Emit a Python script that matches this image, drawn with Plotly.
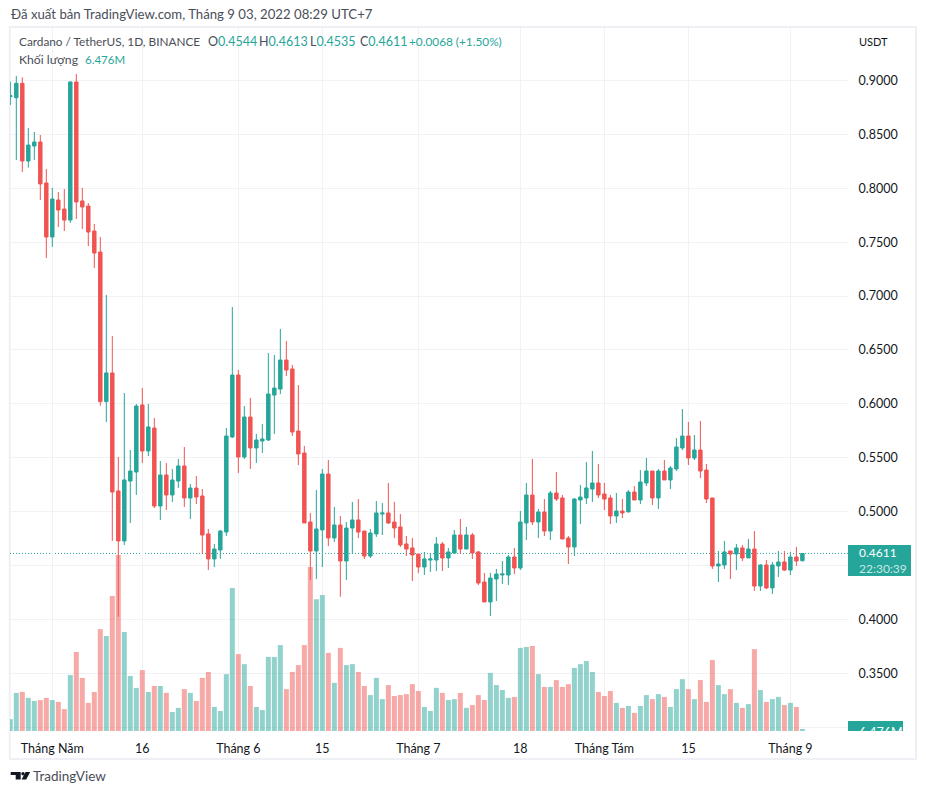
"""ADA/USDT daily candles with volume, TradingView look."""

import pandas as pd
import plotly.graph_objects as go

WIDTH, HEIGHT = 926, 794
PLOT_L, PLOT_R, PLOT_T, PLOT_B = 10, 848, 28, 731

UP = "#26a69a"
DOWN = "#f05452"
UP_VOL = "rgba(38,166,154,0.5)"
DOWN_VOL = "rgba(239,83,80,0.5)"
GRID = "#f0f2f5"
TEXT = "#131722"
SOFT = "#4a4e58"
FONT = "Lato"

dates = pd.date_range("2022-04-24", periods=133, freq="D")

opens = [
    0.8850, 0.8840, 0.8974, 0.8253, 0.8392, 0.8429, 0.8049,
    0.7548, 0.7891, 0.7807, 0.7705, 0.8986, 0.7882, 0.7835, 0.7603, 0.7408, 0.6020,
    0.6286, 0.5191, 0.4727, 0.5283, 0.5367, 0.5989, 0.5562, 0.5775, 0.5051, 0.5339,
    0.5154, 0.5283, 0.5423, 0.5126, 0.5218, 0.5144, 0.4792, 0.4560, 0.4643, 0.4810,
    0.5692,
    0.6267, 0.5506, 0.5877, 0.5590, 0.5655, 0.5664, 0.6081, 0.6137, 0.6406, 0.6323,
    0.5747, 0.5543, 0.4903, 0.4634, 0.4829, 0.5348, 0.4755, 0.4875, 0.4541, 0.4847,
    0.4922, 0.4819, 0.4587, 0.4792, 0.4977, 0.4987, 0.4903, 0.4857, 0.4699, 0.4662,
    0.4606, 0.4485, 0.4550, 0.4550, 0.4699, 0.4569, 0.4615, 0.4782, 0.4652, 0.4782,
    0.4625, 0.4346, 0.4161, 0.4374, 0.4411, 0.4411, 0.4578, 0.4476, 0.4894, 0.5153,
    0.4903, 0.4996, 0.4819, 0.5172, 0.5126, 0.4754, 0.4671, 0.5107, 0.5126, 0.5209,
    0.5265,
    0.5163, 0.5126, 0.4959, 0.5005, 0.4996, 0.5181, 0.5107, 0.5265, 0.5376, 0.5126,
    0.5376, 0.5293, 0.5395, 0.5590, 0.5701, 0.5497, 0.5571, 0.5385, 0.5126, 0.4495,
    0.4504, 0.4634, 0.4606, 0.4662, 0.4569, 0.4652, 0.4309, 0.4504, 0.4291, 0.4495,
    0.4532,
    0.4457, 0.4578, 0.4544,
]
highs = [
    0.8989, 0.9042, 0.9030, 0.8559, 0.8522, 0.8494, 0.8179,
    0.8002, 0.7965, 0.7993, 0.8995, 0.9060, 0.8002, 0.7863, 0.7668, 0.7548, 0.7010,
    0.6629, 0.5506, 0.6100, 0.5571, 0.5998, 0.6147, 0.5998, 0.5868, 0.5469, 0.5450,
    0.5395, 0.5488, 0.5599, 0.5256, 0.5330, 0.5209, 0.4838, 0.4699, 0.4829, 0.5775,
    0.6898,
    0.6314, 0.5979, 0.6054, 0.5720, 0.5812, 0.6471, 0.6453, 0.6694, 0.6583, 0.6360,
    0.6174, 0.5608, 0.4987, 0.5200, 0.5395, 0.5478, 0.5042, 0.4959, 0.4903, 0.5089,
    0.5116, 0.4819, 0.4838, 0.5098, 0.5079, 0.5265, 0.5089, 0.4977, 0.4773, 0.4754,
    0.4606, 0.4625, 0.4615, 0.4764, 0.4717, 0.4662, 0.4829, 0.4931, 0.4857, 0.4801,
    0.4634, 0.4430, 0.4430, 0.4467, 0.4541, 0.4597, 0.4662, 0.5005, 0.5265, 0.5488,
    0.5024, 0.5116, 0.5191, 0.5367, 0.5153, 0.4773, 0.5126, 0.5246, 0.5460, 0.5562,
    0.5441,
    0.5265, 0.5154, 0.5172, 0.5116, 0.5200, 0.5237, 0.5385, 0.5497, 0.5376, 0.5395,
    0.5478, 0.5423, 0.5682, 0.5952, 0.5831, 0.5710, 0.5840, 0.5441, 0.5126, 0.4634,
    0.4727, 0.4634, 0.4699, 0.4690, 0.4745, 0.4819, 0.4513, 0.4550, 0.4532, 0.4634,
    0.4634,
    0.4625, 0.4671, 0.4613,
]
lows = [
    0.8773, 0.8262, 0.8151, 0.8191, 0.8262, 0.7891, 0.7353,
    0.7455, 0.7640, 0.7603, 0.7678, 0.7715, 0.7622, 0.7464, 0.7260, 0.5982, 0.5831,
    0.4727, 0.4024, 0.4690, 0.4894, 0.5154, 0.5451, 0.5515, 0.5033, 0.4922, 0.5014,
    0.5089, 0.5218, 0.5042, 0.4931, 0.5070, 0.4606, 0.4458, 0.4485, 0.4560, 0.4773,
    0.5683,
    0.5358, 0.5488, 0.5395, 0.5451, 0.5543, 0.5655, 0.5720, 0.6091, 0.6258, 0.5701,
    0.5432, 0.4894, 0.4365, 0.4374, 0.4485, 0.4680, 0.4717, 0.4210, 0.4365, 0.4606,
    0.4754, 0.4560, 0.4569, 0.4764, 0.4782, 0.4884, 0.4754, 0.4671, 0.4587, 0.4355,
    0.4430, 0.4411, 0.4439, 0.4448, 0.4448, 0.4476, 0.4606, 0.4606, 0.4652, 0.4560,
    0.4318, 0.4161, 0.4031, 0.4170, 0.4328, 0.4318, 0.4420, 0.4458, 0.4736, 0.4875,
    0.4754, 0.4773, 0.4736, 0.5098, 0.4745, 0.4513, 0.4587, 0.4884, 0.5070, 0.5089,
    0.5126,
    0.5014, 0.4884, 0.4894, 0.4940, 0.4996, 0.5107, 0.5070, 0.5237, 0.5061, 0.5024,
    0.5293, 0.5209, 0.5376, 0.5571, 0.5432, 0.5478, 0.5311, 0.5079, 0.4467, 0.4346,
    0.4467, 0.4374, 0.4457, 0.4541, 0.4569, 0.4263, 0.4263, 0.4281, 0.4235, 0.4393,
    0.4448,
    0.4411, 0.4495, 0.4535,
]
closes = [
    0.8860, 0.8974, 0.8253, 0.8401, 0.8429, 0.8040, 0.7548,
    0.7900, 0.7798, 0.7705, 0.8986, 0.7873, 0.7826, 0.7594, 0.7399, 0.6020, 0.6286,
    0.5181, 0.4727, 0.5293, 0.5376, 0.5979, 0.5562, 0.5785, 0.5051, 0.5339, 0.5154,
    0.5293, 0.5423, 0.5126, 0.5218, 0.5135, 0.4782, 0.4560, 0.4652, 0.4819, 0.5701,
    0.6267,
    0.5506, 0.5877, 0.5590, 0.5664, 0.5673, 0.6091, 0.6146, 0.6406, 0.6313, 0.5738,
    0.5534, 0.4894, 0.4634, 0.4838, 0.5348, 0.4755, 0.4875, 0.4541, 0.4847, 0.4922,
    0.4810, 0.4587, 0.4801, 0.4987, 0.4987, 0.4894, 0.4847, 0.4690, 0.4652, 0.4597,
    0.4485, 0.4560, 0.4560, 0.4699, 0.4569, 0.4625, 0.4782, 0.4652, 0.4782, 0.4615,
    0.4337, 0.4161, 0.4383, 0.4420, 0.4420, 0.4578, 0.4476, 0.4903, 0.5153, 0.4903,
    0.4996, 0.4819, 0.5172, 0.5116, 0.4745, 0.4671, 0.5116, 0.5135, 0.5219, 0.5265,
    0.5154,
    0.5116, 0.4959, 0.5005, 0.4987, 0.5181, 0.5107, 0.5274, 0.5376, 0.5126, 0.5376,
    0.5293, 0.5404, 0.5599, 0.5701, 0.5497, 0.5571, 0.5376, 0.5116, 0.4495, 0.4513,
    0.4625, 0.4606, 0.4662, 0.4569, 0.4652, 0.4309, 0.4504, 0.4291, 0.4504, 0.4532,
    0.4457,
    0.4578, 0.4541, 0.4611,
]
# millions of ADA
volumes = [
    38, 122, 125, 106, 96, 99, 106,
    99, 93, 70, 179, 253, 170, 90, 125, 326, 304,
    432, 563, 317, 176, 138, 195, 125, 144, 144, 122,
    61, 74, 134, 122, 96, 170, 189, 77, 64, 182,
    458,
    246, 214, 144, 77, 67, 237, 237, 275, 134, 189,
    211, 275, 525, 422, 435, 250, 154, 266, 211, 214,
    189, 144, 115, 170, 102, 147, 112, 115, 118, 150,
    128, 77, 64, 138, 122, 99, 102, 122, 74, 83,
    115, 99, 186, 147, 131, 106, 109, 266, 269, 272,
    182, 141, 141, 163, 141, 150, 202, 214, 224, 189,
    125,
    112, 128, 90, 74, 80, 58, 80, 115, 102, 118,
    109, 77, 134, 166, 134, 102, 163, 93, 227, 147,
    118, 134, 90, 74, 86, 262, 131, 93, 102, 109,
    83,
    90, 77, 6.476,
]

price_ticks = [0.30, 0.35, 0.40, 0.45, 0.50, 0.55, 0.60, 0.65, 0.70, 0.75, 0.80, 0.85, 0.90]
# 0.3000 and 0.4500 sit behind the price and volume tags, so they get no label
price_labels = ["", "0.3500", "0.4000", "", "0.5000", "0.5500", "0.6000", "0.6500", "0.7000",
                "0.7500", "0.8000", "0.8500", "0.9000"]
time_ticks = ["2022-05-01", "2022-05-16", "2022-06-01", "2022-06-15", "2022-07-01",
              "2022-07-18", "2022-08-01", "2022-08-15", "2022-09-01"]
time_labels = ["Tháng Năm", "16", "Tháng 6", "15", "Tháng 7", "18", "Tháng Tám", "15", "Tháng 9"]

x_range = ["2022-04-23 22:48", "2022-09-10 14:24"]
price_range = [0.29634, 0.94872]
volume_range = [0, 2250]


def px(x):
    # paper coordinates are relative to the plot area, not the page
    return (x - PLOT_L) / (PLOT_R - PLOT_L)


def py(y):
    return (PLOT_B - y) / (PLOT_B - PLOT_T)


def label(x, y, text, color=TEXT, size=12.5, anchor="left", **kw):
    return dict(
        xref="paper", yref="paper", x=px(x), y=py(y), text=text, showarrow=False,
        xanchor=anchor, yanchor="middle", font=dict(family=FONT, size=size, color=color),
        borderpad=0, **kw,
    )


def pane_rect(x0, y0, x1, y1, **kw):
    return dict(type="rect", xref="paper", yref="paper", x0=px(x0), x1=px(x1),
                y0=py(y0), y1=py(y1), **kw)


def logo_path():
    pts = [
        [(10.7, 772), (20.7, 772), (20.7, 779.6), (15.7, 779.6), (15.7, 775), (10.7, 775)],
        [(25.6, 772), (30.2, 772), (26.2, 779.6), (21.6, 779.6)],
    ]
    return " ".join(
        "M" + " L".join(f"{px(x):.5f},{py(y):.5f}" for x, y in poly) + " Z" for poly in pts
    )


colors = [UP_VOL if c >= o else DOWN_VOL for o, c in zip(opens, closes)]

fig = go.Figure()
fig.add_trace(go.Bar(x=dates, y=volumes, marker=dict(color=colors, line_width=0), yaxis="y"))
fig.add_trace(
    go.Candlestick(
        x=dates, open=opens, high=highs, low=lows, close=closes, yaxis="y2", whiskerwidth=0,
        increasing=dict(line=dict(color=UP, width=1), fillcolor=UP),
        decreasing=dict(line=dict(color=DOWN, width=1), fillcolor=DOWN),
    )
)

last_close = closes[-1]
shapes = [
    pane_rect(9.8, 27, 916, 759, line=dict(color="#eef0f5", width=2), layer="below"),
    dict(type="line", xref="x domain", yref="y2", x0=0, x1=1, y0=last_close, y1=last_close,
         line=dict(color=UP, width=1, dash="1px,2px"), layer="below"),
    pane_rect(848, 545, 911, 576, fillcolor=UP, line_width=0, layer="above"),
    pane_rect(848, 721, 903, 731, fillcolor=UP, line_width=0, layer="above"),
    dict(type="path", xref="paper", yref="paper", path=logo_path(), fillcolor="#131722",
         line_width=0, layer="above"),
    dict(type="circle", xref="paper", yref="paper", x0=px(21.3), x1=px(24.7), y0=py(775.4),
         y1=py(772), fillcolor="#131722", line_width=0, layer="above"),
]

o, h, l, c = opens[-1], highs[-1], lows[-1], closes[-1]
annotations = [
    label(10, 14, "Đã xuất bản TradingView.com, Tháng 9 03, 2022 08:29 UTC+7", color=SOFT, size=13.2),
    label(18, 42, "Cardano / TetherUS, 1D, BINANCE", color=SOFT, size=11.8),
    label(207, 42, f"O<span style='color:{UP}'>{o:.4f}</span>", color=SOFT),
    label(258, 42, f"H<span style='color:{UP}'>{h:.4f}</span>", color=SOFT),
    label(309, 42, f"L<span style='color:{UP}'>{l:.4f}</span>", color=SOFT),
    label(359, 42, f"C<span style='color:{UP}'>{c:.4f}</span>", color=SOFT),
    label(408, 42, "+0.0068 (+1.50%)", color=UP, size=11.8),
    label(17.5, 59, "Khối lượng", color=SOFT, size=12.2),
    label(84, 59, "6.476M", color=UP, size=11.5),
    label(858, 41, "USDT", color=TEXT, size=11),
    label(858, 560.5, f"{last_close:.4f}<br><span style='color:rgba(255,255,255,0.75)'>22:30:39</span>",
          color="white", size=12, align="left"),
    # the volume tag cuts the text off at the pane's bottom edge
    label(858, 728, "6.476M", color="white", height=6, valign="top"),
    label(32, 776, "TradingView", color=SOFT, size=13.5),
]

fig.update_layout(
    width=WIDTH,
    height=HEIGHT,
    autosize=False,
    margin=dict(l=PLOT_L, r=WIDTH - PLOT_R, t=PLOT_T, b=HEIGHT - PLOT_B, pad=0),
    paper_bgcolor="white",
    plot_bgcolor="white",
    showlegend=False,
    bargap=0.167,
    boxgap=0.18,
    font=dict(family=FONT, size=12.5, color=TEXT),
    xaxis=dict(
        type="date", range=x_range, tickmode="array", tickvals=time_ticks, ticktext=time_labels,
        showgrid=True, gridcolor=GRID, gridwidth=1, zeroline=False, showline=False,
        rangeslider=dict(visible=False), ticks="outside", ticklen=6, tickcolor="white",
        tickangle=0,
    ),
    yaxis=dict(range=volume_range, visible=False, showgrid=False, fixedrange=True),
    yaxis2=dict(
        range=price_range, overlaying="y", side="right", anchor="x", tickmode="array",
        tickvals=price_ticks, ticktext=price_labels, showgrid=True, gridcolor=GRID, gridwidth=1,
        zeroline=False, showline=False, ticks="outside", ticklen=7, tickcolor="white",
    ),
    shapes=shapes,
    annotations=annotations,
)

fig.write_html("out.html", post_script="document.body.style.margin='0';",
               config=dict(displayModeBar=False))
